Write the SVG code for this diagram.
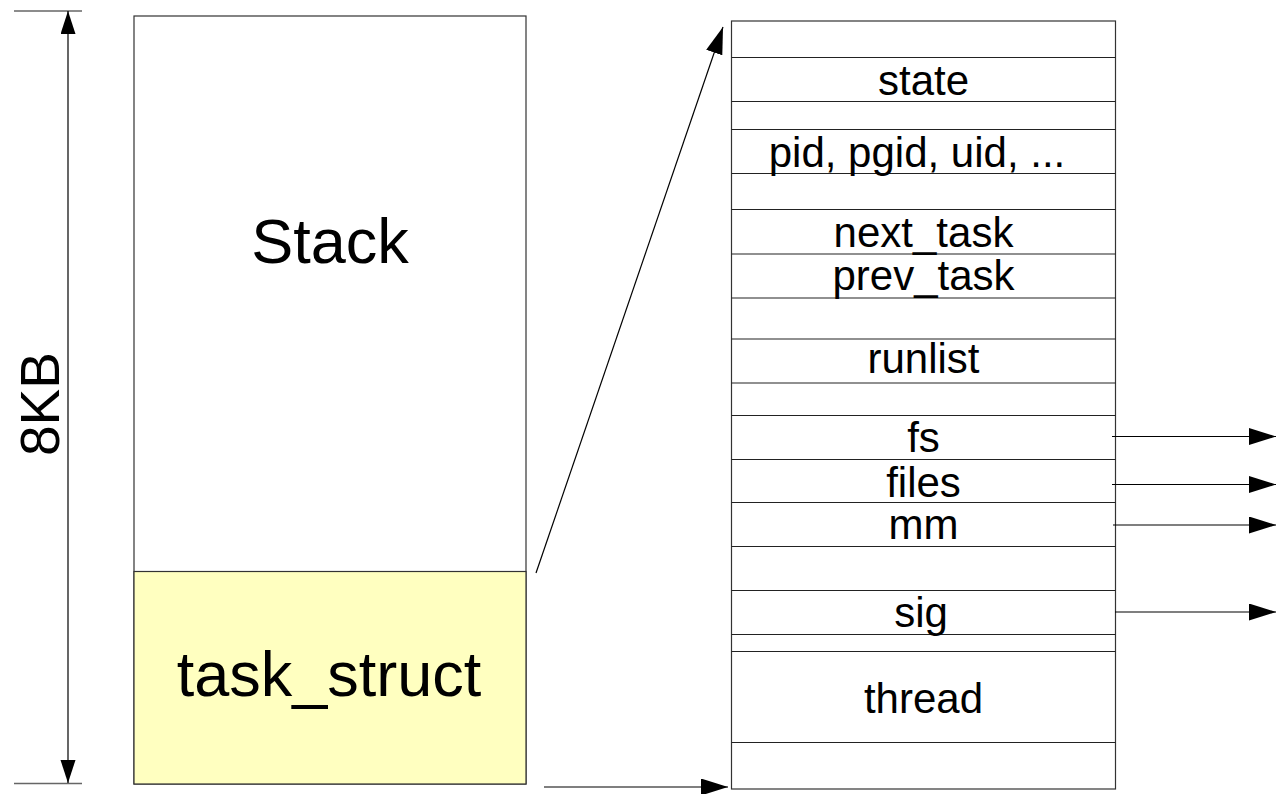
<svg xmlns="http://www.w3.org/2000/svg" width="1276" height="794" viewBox="0 0 1276 794">
<style>
  .ln { stroke: #000; stroke-width: 1.2; fill: none; }
  .tick { stroke: #666; stroke-width: 1.5; }
  .sep { stroke: #222; stroke-width: 1.2; }
  .box { fill: #fff; stroke: #333; stroke-width: 1.2; }
  .txt { font-family: "Liberation Sans", Arial, sans-serif; fill: #000; text-anchor: middle; }
  .big { font-size: 63px; }
  .fld { font-size: 42px; }
</style>
<defs>
  <marker id="ah" markerUnits="userSpaceOnUse" markerWidth="28" markerHeight="18" refX="27" refY="8.5" orient="auto">
    <path d="M0,0 L27,8.5 L0,17 Z" fill="#000"/>
  </marker>
  <marker id="av" markerUnits="userSpaceOnUse" markerWidth="24" markerHeight="16" refX="23" refY="7.5" orient="auto">
    <path d="M0,0 L23,7.5 L0,15 Z" fill="#000"/>
  </marker>
</defs>

<g id="dimension">
  <line class="tick" x1="14" y1="11" x2="82" y2="11"/>
  <line class="tick" x1="14" y1="783.5" x2="82" y2="783.5"/>
  <line class="ln" x1="68" y1="397" x2="68" y2="11" marker-end="url(#av)"/>
  <line class="ln" x1="68" y1="397" x2="68" y2="783" marker-end="url(#av)"/>
  <text class="txt" transform="translate(59,404) rotate(-90)" style="font-size:55px">8KB</text>
</g>

<g id="stack-block">
  <rect class="box" x="134" y="16" width="392" height="768"/>
  <rect x="134" y="571.5" width="392" height="212.5" fill="#ffffc0" stroke="#333" stroke-width="1.2"/>
  <text class="txt big" x="330" y="263">Stack</text>
  <text class="txt big" x="329" y="696">task_struct</text>
</g>

<g id="task-struct-fields">
  <rect class="box" x="731.5" y="21" width="384" height="768"/>
  <line class="sep" x1="731.5" y1="57.5" x2="1115.5" y2="57.5"/>
  <line class="sep" x1="731.5" y1="101.5" x2="1115.5" y2="101.5"/>
  <line class="sep" x1="731.5" y1="129.5" x2="1115.5" y2="129.5"/>
  <line class="sep" x1="731.5" y1="173.5" x2="1115.5" y2="173.5"/>
  <line class="sep" x1="731.5" y1="209.5" x2="1115.5" y2="209.5"/>
  <line class="sep" x1="731.5" y1="254" x2="1115.5" y2="254"/>
  <line class="sep" x1="731.5" y1="298" x2="1115.5" y2="298"/>
  <line class="sep" x1="731.5" y1="339" x2="1115.5" y2="339"/>
  <line class="sep" x1="731.5" y1="383" x2="1115.5" y2="383"/>
  <line class="sep" x1="731.5" y1="415.5" x2="1115.5" y2="415.5"/>
  <line class="sep" x1="731.5" y1="459.5" x2="1115.5" y2="459.5"/>
  <line class="sep" x1="731.5" y1="502.5" x2="1115.5" y2="502.5"/>
  <line class="sep" x1="731.5" y1="546.5" x2="1115.5" y2="546.5"/>
  <line class="sep" x1="731.5" y1="590.5" x2="1115.5" y2="590.5"/>
  <line class="sep" x1="731.5" y1="634.5" x2="1115.5" y2="634.5"/>
  <line class="sep" x1="731.5" y1="651.5" x2="1115.5" y2="651.5"/>
  <line class="sep" x1="731.5" y1="742.5" x2="1115.5" y2="742.5"/>
  <text class="txt fld" x="923.5" y="95">state</text>
  <text class="txt fld" x="917" y="167">pid, pgid, uid, ...</text>
  <text class="txt fld" x="923.5" y="247">next_task</text>
  <text class="txt fld" x="923.5" y="290">prev_task</text>
  <text class="txt fld" x="923.5" y="373">runlist</text>
  <text class="txt fld" x="923.5" y="452">fs</text>
  <text class="txt fld" x="923.5" y="497">files</text>
  <text class="txt fld" x="923.5" y="539">mm</text>
  <text class="txt fld" x="921" y="627">sig</text>
  <text class="txt fld" x="923.5" y="713">thread</text>
</g>

<g id="connectors">
  <line class="ln" x1="536" y1="573" x2="723" y2="27" marker-end="url(#ah)"/>
  <line class="ln" x1="544" y1="787" x2="728" y2="787" marker-end="url(#ah)"/>
  <line class="ln" x1="1112" y1="436.5" x2="1276" y2="436.5" marker-end="url(#ah)"/>
  <line class="ln" x1="1112" y1="484.5" x2="1276" y2="484.5" marker-end="url(#ah)"/>
  <line class="ln" x1="1113" y1="525" x2="1276" y2="525" marker-end="url(#ah)"/>
  <line class="ln" x1="1115" y1="612" x2="1276" y2="612" marker-end="url(#ah)"/>
</g>
</svg>
